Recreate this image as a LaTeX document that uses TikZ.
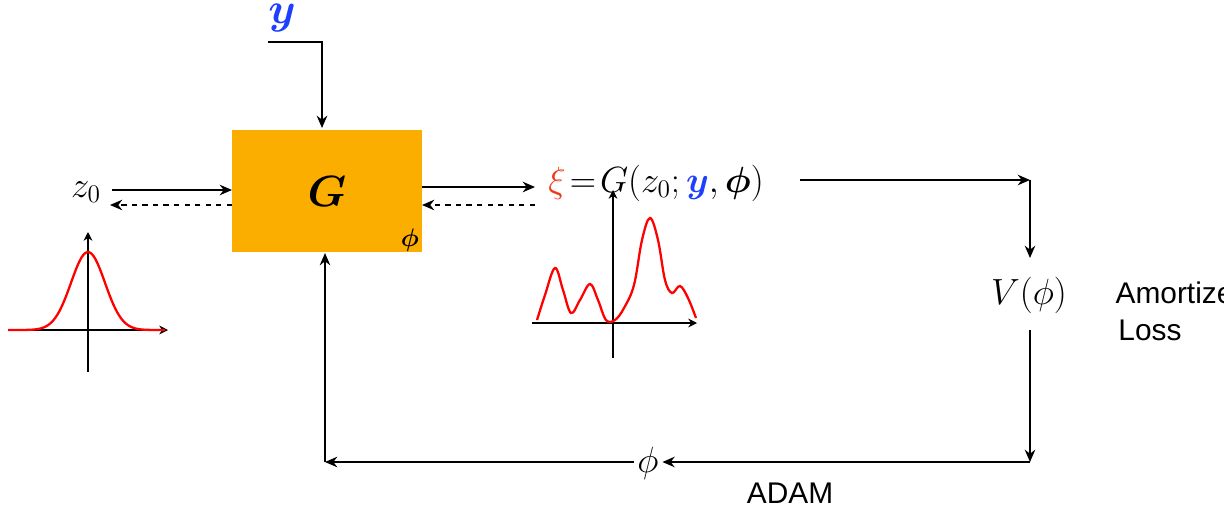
\documentclass[tikz,border=0pt]{standalone}
\usepackage{amsmath,bm}
\usepackage{fontspec}
\setsansfont{Liberation Sans}
\usetikzlibrary{arrows.meta}
\definecolor{gbox}{HTML}{FBAE00}
\definecolor{yblue}{HTML}{1F3FFF}
\definecolor{xired}{HTML}{F03A1A}
\tikzset{conn/.style={-{Stealth[length=7pt,width=6pt]},line width=0.9pt},
  dconn/.style={conn,dashed},
  ax/.style={-{Stealth[length=5pt,width=5pt]},line width=0.6pt},
  curve/.style={red,line width=1.3pt}}
\begin{document}
\begin{tikzpicture}[x=0.02cm,y=-0.02cm]
\useasboundingbox (0,0) rectangle (1224,518);
\node[fill=gbox,minimum width=3.8cm,minimum height=2.44cm,inner sep=0] (G) at (327,191) {\fontsize{30}{34}\selectfont $\bm{G}$};
\node (phib) at (410,240) {\Large $\bm{\phi}$};
\node (y) at (282,18) {\fontsize{24}{28}\selectfont\color{yblue}$\bm{y}$};
\coordinate (ya) at (268,42);
\coordinate (yb) at (322,42);
\coordinate (yc) at (322,128);
\draw[conn] (ya) -- (yb) -- (yc);
\node (z0) at (86,192) {\fontsize{20}{24}\selectfont $z_0$};
\coordinate (za) at (112,190); \coordinate (zb) at (232,190);
\coordinate (zc) at (232,205); \coordinate (zd) at (110,205);
\draw[conn] (za) -- (zb);
\draw[dconn] (zc) -- (zd);
\coordinate (ra) at (422,187); \coordinate (rb) at (535,187);
\coordinate (rc) at (535,205); \coordinate (rd) at (422,205);
\draw[conn] (ra) -- (rb);
\draw[dconn] (rc) -- (rd);
\node[anchor=west,inner sep=0] (xi) at (548,183) {\fontsize{22}{26}\selectfont $\color{xired}\xi\color{black} \!=\! G(z_0;\color{yblue}\bm{y}\color{black},\bm{\phi})$};
\coordinate (c1) at (800,180);
\coordinate (c2) at (1030,180);
\coordinate (c3) at (1030,258);
\draw[conn] (c1) -- (c2);
\draw[conn] (c2) -- (c3);
\node (V) at (1029,295) {\fontsize{20}{24}\selectfont $V(\phi)$};
\node[align=center,font=\sffamily\fontsize{17}{21}\selectfont,inner sep=0] (AL) at (1150,311) {\hspace*{2.2em}Amortized\\Loss};
\coordinate (c4) at (1030,330);
\coordinate (c5) at (1030,462);
\draw[conn] (c4) -- (c5);
\node[inner sep=2pt] (phi) at (648,463) {\fontsize{20}{24}\selectfont $\phi$};
\coordinate (pe) at (phi.east |- c5);
\coordinate (c6) at (325,462);
\coordinate (pw) at (phi.west |- c6);
\coordinate (c7) at (325,253);
\draw[conn] (c5) -- (pe);
\draw[conn] (pw) -- (c6);
\draw[conn] (c6) -- (c7);
\node[font=\sffamily\fontsize{17}{21}\selectfont] (adam) at (790,493) {ADAM};
% gaussian plot
\coordinate (g1) at (8,330); \coordinate (g2) at (168,330);
\coordinate (g3) at (88,372); \coordinate (g4) at (88,232);
\draw[ax] (g1) -- (g2);
\draw[ax] (g3) -- (g4);
\draw[curve,domain=8:165,samples=80] plot (\x,{330-78*exp(-((\x-88)/24)^2)});
% multimodal plot
\coordinate (m1) at (532,323); \coordinate (m2) at (697,323);
\coordinate (m3) at (613,358); \coordinate (m4) at (613,190);
\draw[ax] (m1) -- (m2);
\draw[ax] (m3) -- (m4);
\draw[curve] plot[smooth,tension=0.6] coordinates {(537,320) (545,295) (555,268) (563,290) (571,313) (580,300) (590,284) (598,300) (606,320) (615,320) (624,308) (634,285) (642,240) (650,218) (658,240) (665,280) (672,293) (680,286) (688,298) (696,318)};
\end{tikzpicture}
\end{document}
